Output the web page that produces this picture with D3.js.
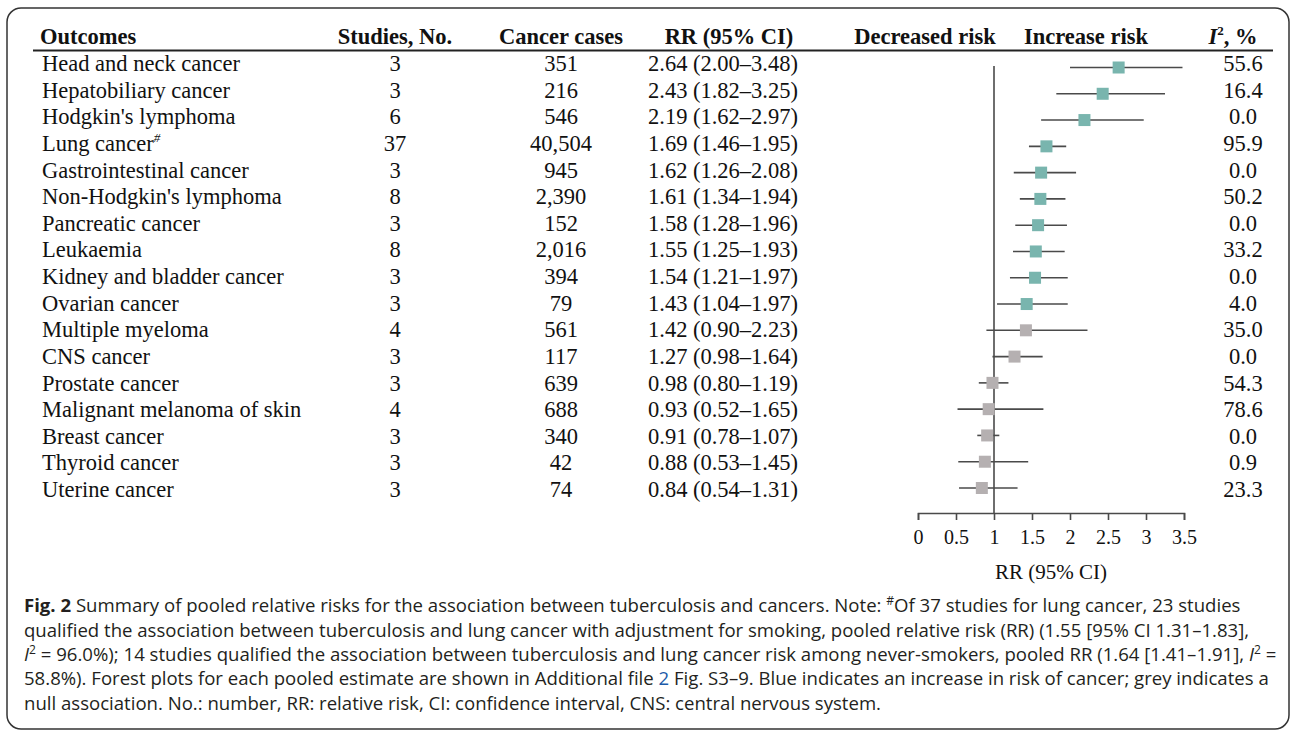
<!DOCTYPE html>
<html>
<head>
<meta charset="utf-8">
<script src="https://cdn.jsdelivr.net/npm/d3@7"></script>
<style>
  body { margin: 0; background: #fff; }
  svg { display: block; }
</style>
</head>
<body>
<div id="chart"></div>
<script>
// table data
var outcomes = ["Head and neck cancer", "Hepatobiliary cancer", "Hodgkin's lymphoma", "Lung cancer",
  "Gastrointestinal cancer", "Non-Hodgkin's lymphoma", "Pancreatic cancer", "Leukaemia",
  "Kidney and bladder cancer", "Ovarian cancer", "Multiple myeloma", "CNS cancer",
  "Prostate cancer", "Malignant melanoma of skin", "Breast cancer", "Thyroid cancer", "Uterine cancer"];
var studies = [3, 3, 6, 37, 3, 8, 3, 8, 3, 3, 4, 3, 3, 4, 3, 3, 3];
var cases = ["351", "216", "546", "40,504", "945", "2,390", "152", "2,016", "394", "79", "561", "117",
  "639", "688", "340", "42", "74"];
var rr = [2.64, 2.43, 2.19, 1.69, 1.62, 1.61, 1.58, 1.55, 1.54, 1.43, 1.42, 1.27, 0.98, 0.93, 0.91, 0.88, 0.84];
var lower = [2.00, 1.82, 1.62, 1.46, 1.26, 1.34, 1.28, 1.25, 1.21, 1.04, 0.90, 0.98, 0.80, 0.52, 0.78, 0.53, 0.54];
var upper = [3.48, 3.25, 2.97, 1.95, 2.08, 1.94, 1.96, 1.93, 1.97, 1.97, 2.23, 1.64, 1.19, 1.65, 1.07, 1.45, 1.31];
var i2 = ["55.6", "16.4", "0.0", "95.9", "0.0", "50.2", "0.0", "33.2", "0.0", "4.0", "35.0", "0.0",
  "54.3", "78.6", "0.0", "0.9", "23.3"];
var footnoteRow = 3; // lung cancer gets the # mark
var axisTicks = [0, 0.5, 1, 1.5, 2, 2.5, 3, 3.5];

var width = 1292, height = 734;
var serif = "'Liberation Serif', 'Times New Roman', serif";
var sans = "'Open Sans', 'Noto Sans', sans-serif";

var svg = d3.select("#chart").append("svg").attr("width", width).attr("height", height);

// frame
svg.append("rect").attr("x", 7).attr("y", 8).attr("width", 1282).attr("height", 721)
  .attr("rx", 14).attr("fill", "none").attr("stroke", "#333").attr("stroke-width", 1.5);

var idx = d3.range(outcomes.length);
var rowY = d3.scalePoint().domain(idx).range([64, 490]);     // text rows
var markY = d3.scalePoint().domain(idx).range([67.5, 488]);  // forest marks
var x = d3.scaleLinear().domain([0, 3.5]).range([918, 1184]);

// header
var head = svg.append("g").attr("font-family", serif).attr("font-weight", "bold")
  .attr("font-size", 22.5).attr("fill", "#111");
head.append("text").attr("x", 40).attr("y", 44).text("Outcomes");
head.append("text").attr("x", 395).attr("y", 44).attr("text-anchor", "middle").text("Studies, No.");
head.append("text").attr("x", 561).attr("y", 44).attr("text-anchor", "middle").text("Cancer cases");
head.append("text").attr("x", 729).attr("y", 44).attr("text-anchor", "middle").text("RR (95% CI)");
head.append("text").attr("x", 925).attr("y", 44).attr("text-anchor", "middle").text("Decreased risk");
head.append("text").attr("x", 1086).attr("y", 44).attr("text-anchor", "middle").text("Increase risk");
var ih = head.append("text").attr("x", 1233).attr("y", 44).attr("text-anchor", "middle");
ih.append("tspan").attr("font-style", "italic").text("I");
ih.append("tspan").attr("font-size", 13).attr("dy", -9).text("2");
ih.append("tspan").attr("dy", 9).text(", %");

svg.append("line").attr("x1", 33).attr("x2", 1273).attr("y1", 50.5).attr("y2", 50.5)
  .attr("stroke", "#222").attr("stroke-width", 2);

// table body
var body = svg.append("g").attr("font-family", serif).attr("font-size", 22.5).attr("fill", "#111");
var rows = body.selectAll("g.row").data(idx).enter().append("g").attr("class", "row")
  .attr("transform", function(d) { return "translate(0," + (rowY(d) + 7) + ")"; });

var nameText = rows.append("text").attr("x", 42).text(function(d) { return outcomes[d]; });
nameText.filter(function(d) { return d === footnoteRow; }).append("tspan")
  .attr("font-size", 13).attr("dy", -9).attr("font-style", "italic").text("#");

rows.append("text").attr("x", 395).attr("text-anchor", "middle").text(function(d) { return studies[d]; });
rows.append("text").attr("x", 561).attr("text-anchor", "middle").text(function(d) { return cases[d]; });
rows.append("text").attr("x", 648).text(function(d) {
  return rr[d].toFixed(2) + " (" + lower[d].toFixed(2) + "\u2013" + upper[d].toFixed(2) + ")";
});
rows.append("text").attr("x", 1243).attr("text-anchor", "middle").text(function(d) { return i2[d]; });

// forest plot
var lineCol = "#4a4a4a";
svg.append("line").attr("x1", x(1)).attr("x2", x(1)).attr("y1", 66).attr("y2", 513)
  .attr("stroke", lineCol).attr("stroke-width", 1.6);

var marks = svg.append("g").selectAll("g").data(idx).enter().append("g");
marks.append("line")
  .attr("x1", function(d) { return x(lower[d]); })
  .attr("x2", function(d) { return x(upper[d]); })
  .attr("y1", function(d) { return markY(d); })
  .attr("y2", function(d) { return markY(d); })
  .attr("stroke", lineCol).attr("stroke-width", 1.6);
marks.append("rect")
  .attr("x", function(d) { return x(rr[d]) - 6; })
  .attr("y", function(d) { return markY(d) - 6; })
  .attr("width", 12).attr("height", 12)
  .attr("fill", function(d) { return lower[d] > 1 ? "#79b5ae" : "#b5b0b1"; });

var axis = d3.axisBottom(x).tickValues(axisTicks).tickSize(7).tickPadding(10)
  .tickFormat(function(d) { return String(d); });
var ax = svg.append("g").attr("transform", "translate(0,513)").call(axis);
ax.select(".domain").attr("stroke", lineCol).attr("stroke-width", 1.6);
ax.selectAll(".tick line").attr("stroke", lineCol).attr("stroke-width", 1.6);
ax.selectAll(".tick text").attr("font-family", serif).attr("font-size", 20).attr("fill", "#111");

svg.append("text").attr("x", 1051).attr("y", 579).attr("text-anchor", "middle")
  .attr("font-family", serif).attr("font-size", 21).attr("fill", "#111").text("RR (95% CI)");

// caption
var capLines = [
  [{b: "Fig. 2"}, {t: " Summary of pooled relative risks for the association between tuberculosis and cancers. Note: "}, {sup: "#"}, {t: "Of 37 studies for lung cancer, 23 studies"}],
  [{t: "qualified the association between tuberculosis and lung cancer with adjustment for smoking, pooled relative risk (RR) (1.55 [95% CI 1.31\u20131.83],"}],
  [{i: "I"}, {sup: "2"}, {t: " = 96.0%); 14 studies qualified the association between tuberculosis and lung cancer risk among never-smokers, pooled RR (1.64 [1.41\u20131.91], "}, {i: "I"}, {sup: "2"}, {t: " ="}],
  [{t: "58.8%). Forest plots for each pooled estimate are shown in Additional file "}, {link: "2"}, {t: " Fig. S3\u20139. Blue indicates an increase in risk of cancer; grey indicates a"}],
  [{t: "null association. No.: number, RR: relative risk, CI: confidence interval, CNS: central nervous system."}]
];
var capY = [612, 636.5, 661, 685, 709.5];

var cap = svg.append("g").attr("font-family", sans).attr("font-size", 16).attr("fill", "#231f20");
var capTexts = capLines.map(function(parts, li) {
  var t = cap.append("text").attr("x", 24).attr("y", capY[li]);
  parts.forEach(function(p) {
    if (p.b) t.append("tspan").attr("font-weight", "bold").text(p.b);
    else if (p.i) t.append("tspan").attr("font-style", "italic").text(p.i);
    else if (p.sup) t.append("tspan").attr("font-size", "0.65em").attr("dy", "-0.55em").text(p.sup)
      .each(function() { this.__sup = true; });
    else if (p.link) t.append("tspan").attr("fill", "#1c5aa8").text(p.link);
    else t.append("tspan").text(p.t);
  });
  // drop back to the baseline after a superscript
  t.selectAll("tspan").each(function(d, k, nodes) {
    if (k > 0 && nodes[k - 1].__sup) d3.select(this).attr("dy", "0.357em");
  });
  return t;
});

// fit the font so the fourth caption line ends where the figure's does
var measured = capTexts[3].node().getComputedTextLength();
var fs = 16 * (1246 / measured);
cap.attr("font-size", fs);
</script>
</body>
</html>
